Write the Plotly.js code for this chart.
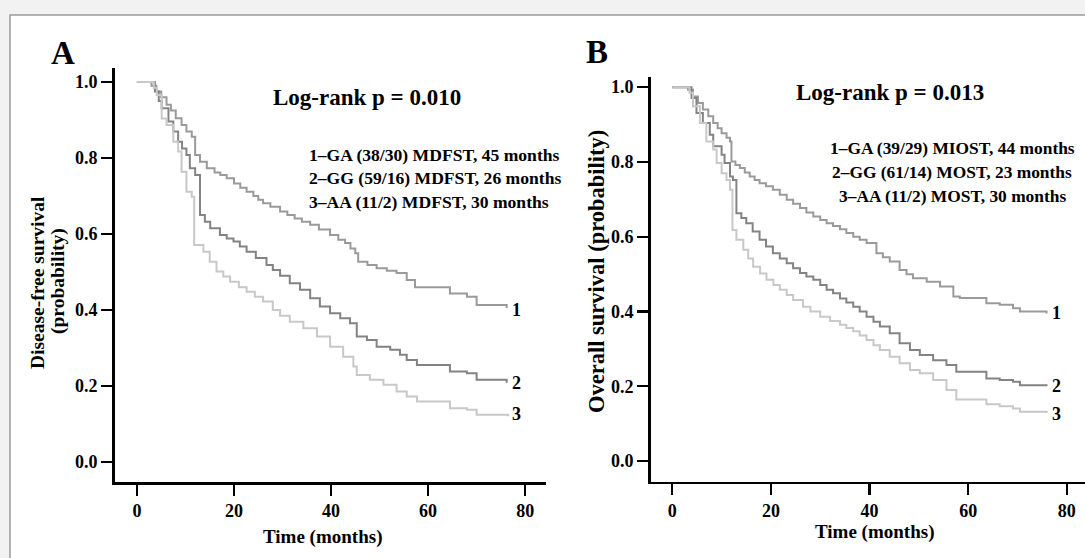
<!DOCTYPE html>
<html>
<head>
<meta charset="utf-8">
<script src="https://cdn.plot.ly/plotly-3.0.1.min.js"></script>
<style>html,body{margin:0;padding:0;background:#f2f2f2;}#chart{width:1085px;height:558px;}</style>
</head>
<body>
<div id="chart"></div>
<script>
// ---- Panel A: disease-free survival ----
const tA1 = [0, 2.7, 3.0, 4.0, 5.0, 6.1, 7.0, 8.0, 9.2, 10.2, 11.3, 12.0, 13.0, 14.4, 16.0, 17.2, 18.5, 20.0, 21.3, 22.6, 24.0, 25.0, 26.0, 27.5, 29.5, 31.0, 32.5, 34.0, 35.7, 37.5, 39.8, 41.5, 42.9, 44.0, 45.0, 45.6, 47.5, 49.4, 51.5, 53.5, 55.6, 57.3, 64.5, 68.0, 70.0, 76.2];
const sA1 = [1, 1, 0.99, 0.975, 0.96, 0.94, 0.925, 0.905, 0.887, 0.87, 0.856, 0.808, 0.79, 0.773, 0.762, 0.755, 0.747, 0.733, 0.722, 0.711, 0.70, 0.69, 0.681, 0.672, 0.659, 0.65, 0.641, 0.632, 0.624, 0.612, 0.597, 0.585, 0.576, 0.562, 0.549, 0.527, 0.518, 0.510, 0.503, 0.497, 0.479, 0.460, 0.443, 0.435, 0.413, 0.405];
const tA2 = [0, 2.7, 3.7, 4.5, 5.1, 6.5, 7.5, 8.5, 9.3, 10.2, 10.9, 12.0, 13.0, 14.0, 15.1, 17.1, 18.5, 19.9, 21.2, 22.6, 24.5, 26.7, 28.0, 29.5, 31.5, 33.6, 35.7, 37.7, 39.8, 41.9, 43.9, 45.3, 47.4, 49.4, 52.2, 54.2, 55.6, 57.7, 64.5, 68.0, 70.0, 76.2];
const sA2 = [1, 1, 0.975, 0.95, 0.931, 0.896, 0.87, 0.843, 0.825, 0.808, 0.773, 0.755, 0.65, 0.632, 0.615, 0.597, 0.588, 0.580, 0.567, 0.553, 0.537, 0.518, 0.505, 0.49, 0.470, 0.453, 0.431, 0.409, 0.391, 0.378, 0.365, 0.330, 0.321, 0.303, 0.295, 0.282, 0.268, 0.255, 0.238, 0.233, 0.216, 0.208];
const tA3 = [0, 2.7, 3.5, 4.1, 5.1, 6.1, 7.5, 8.5, 9.2, 10.2, 11.3, 11.8, 13.7, 15.0, 16.4, 17.8, 19.2, 21.0, 22.6, 24.3, 26.0, 28.0, 29.5, 31.5, 34.3, 37.1, 39.8, 42.5, 44.6, 45.3, 48.0, 50.8, 53.5, 55.6, 57.7, 64.5, 68.0, 70.0, 76.5];
const sA3 = [1, 1, 0.985, 0.966, 0.904, 0.887, 0.843, 0.817, 0.764, 0.711, 0.698, 0.571, 0.553, 0.527, 0.501, 0.488, 0.474, 0.46, 0.448, 0.435, 0.422, 0.40, 0.385, 0.369, 0.352, 0.330, 0.303, 0.277, 0.251, 0.229, 0.216, 0.203, 0.185, 0.172, 0.159, 0.141, 0.137, 0.124, 0.12];

// ---- Panel B: overall survival ----
const tB1 = [0, 2.9, 3.2, 4.2, 5.2, 6.2, 7.3, 8.3, 9.2, 10.0, 11.0, 11.7, 12.0, 12.8, 13.7, 14.7, 15.7, 16.7, 17.7, 19.0, 20.4, 21.8, 23.2, 24.5, 25.9, 27.2, 28.6, 30.0, 31.3, 32.6, 34.0, 35.3, 36.7, 38.0, 39.4, 41.4, 42.7, 44.1, 46.1, 47.5, 48.8, 51.6, 54.3, 57.0, 58.3, 63.7, 66.4, 69.1, 70.5, 75.9];
const sB1 = [1, 1, 0.993, 0.975, 0.958, 0.940, 0.922, 0.904, 0.89, 0.877, 0.865, 0.855, 0.801, 0.792, 0.784, 0.772, 0.761, 0.752, 0.743, 0.735, 0.726, 0.712, 0.699, 0.688, 0.677, 0.665, 0.654, 0.645, 0.636, 0.629, 0.620, 0.610, 0.600, 0.592, 0.583, 0.556, 0.545, 0.534, 0.511, 0.50, 0.489, 0.480, 0.467, 0.440, 0.436, 0.422, 0.418, 0.409, 0.400, 0.395];
const tB2 = [0, 2.9, 3.9, 4.9, 6.2, 7.6, 8.3, 10.0, 10.6, 11.7, 12.3, 13.0, 14.0, 15.0, 16.3, 17.7, 19.0, 20.4, 21.8, 23.2, 24.5, 25.9, 27.2, 28.6, 30.0, 31.3, 32.6, 34.0, 35.3, 36.7, 38.0, 39.4, 40.8, 42.1, 44.1, 46.1, 48.2, 50.2, 52.9, 55.6, 57.6, 63.7, 66.4, 69.1, 70.5, 75.9];
const sB2 = [1, 1, 0.971, 0.931, 0.904, 0.873, 0.842, 0.819, 0.797, 0.761, 0.752, 0.663, 0.650, 0.636, 0.614, 0.592, 0.574, 0.556, 0.542, 0.529, 0.516, 0.503, 0.494, 0.485, 0.471, 0.458, 0.449, 0.435, 0.424, 0.413, 0.400, 0.386, 0.373, 0.360, 0.342, 0.315, 0.297, 0.284, 0.270, 0.257, 0.239, 0.221, 0.217, 0.212, 0.203, 0.200];
const tB3 = [0, 2.9, 3.5, 4.2, 5.6, 6.9, 8.3, 9.0, 10.0, 11.0, 11.7, 12.2, 13.0, 14.4, 15.4, 16.4, 17.8, 19.1, 20.5, 21.8, 23.2, 24.5, 26.5, 28.0, 30.0, 32.0, 34.0, 35.3, 36.7, 38.0, 39.4, 40.8, 42.1, 44.1, 46.1, 48.2, 50.2, 52.9, 55.6, 57.6, 63.7, 66.4, 69.1, 70.5, 75.9];
const sB3 = [1, 1, 0.985, 0.949, 0.904, 0.855, 0.833, 0.797, 0.770, 0.752, 0.726, 0.618, 0.592, 0.565, 0.542, 0.520, 0.502, 0.485, 0.471, 0.458, 0.444, 0.431, 0.413, 0.400, 0.386, 0.375, 0.365, 0.356, 0.347, 0.336, 0.324, 0.310, 0.297, 0.279, 0.262, 0.244, 0.235, 0.217, 0.19, 0.165, 0.152, 0.147, 0.141, 0.132, 0.129];

const xTicks = [0, 20, 40, 60, 80];
const yTicks = [0, 0.2, 0.4, 0.6, 0.8, 1.0];
const yTickText = ['0.0', '0.2', '0.4', '0.6', '0.8', '1.0'];
const legendA = ['1–GA (38/30) MDFST, 45 months', '2–GG (59/16) MDFST, 26 months', '3–AA (11/2) MDFST, 30 months'];
const legendB = ['1–GA (39/29) MIOST, 44 months', '2–GG (61/14) MOST, 23 months', '3–AA (11/2) MOST, 30 months'];
const pA = 'Log-rank p = 0.010';
const pB = 'Log-rank p = 0.013';
const endLabels = ['1', '2', '3'];
const endA = [0.40, 0.208, 0.126];
const endB = [0.396, 0.201, 0.126];

const W = 1085, H = 558;
const px = x => x / W, py = y => 1 - y / H;
const SERIF = 'Liberation Serif, Times New Roman, serif';
const colors = ['#9a9a9a', '#838383', '#c8c8c8'];

function tr(t, s, i, xa, ya) {
  return {x: t, y: s, type: 'scatter', mode: 'lines', xaxis: xa, yaxis: ya,
    line: {shape: 'hv', color: colors[i], width: 2}, hoverinfo: 'skip', showlegend: false};
}
const data = [
  tr(tA1, sA1, 0, 'x', 'y'), tr(tA2, sA2, 1, 'x', 'y'), tr(tA3, sA3, 2, 'x', 'y'),
  tr(tB1, sB1, 0, 'x2', 'y2'), tr(tB2, sB2, 1, 'x2', 'y2'), tr(tB3, sB3, 2, 'x2', 'y2')
];

const tickFont = {family: SERIF, size: 18, color: '#000', weight: 'bold'};
function xax(dom, rng) {
  return {domain: dom, range: rng, tickvals: xTicks, ticks: 'outside', ticklen: 11, tickwidth: 2.2,
    tickcolor: '#000', showline: true, linecolor: '#000', linewidth: 2.5, showgrid: false,
    zeroline: false, tickfont: tickFont, fixedrange: true};
}
function yax(dom, rng, anchor) {
  return {domain: dom, range: rng, tickvals: yTicks, ticktext: yTickText, ticks: 'outside', ticklen: 11,
    tickwidth: 2.2, tickcolor: '#000', showline: true, linecolor: '#000', linewidth: 2.5, showgrid: false,
    zeroline: false, tickfont: tickFont, anchor: anchor, fixedrange: true};
}

function ann(text, x, y, size, opts) {
  return Object.assign({text: text, xref: 'paper', yref: 'paper', x: px(x), y: py(y), showarrow: false,
    xanchor: 'center', yanchor: 'middle', font: {family: SERIF, size: size, color: '#000', weight: 'bold'}}, opts || {});
}

const annotations = [
  ann('A', 62.5, 53, 33),
  ann('B', 597, 52, 33),
  ann(pA, 367, 97, 23),
  ann(pB, 890, 93, 23),
  ann('Disease-free survival', 37, 283, 19.5, {textangle: -90}),
  ann('(probability)', 58, 281, 19.5, {textangle: -90}),
  ann('Overall survival (probability)', 597, 272, 22.5, {textangle: -90}),
  ann('Time (months)', 322, 537, 19),
  ann('Time (months)', 874, 532, 19)
];
[155, 178, 202].forEach((y, i) => annotations.push(ann(legendA[i], 307, y, 17.6, {xanchor: 'left'})));
[148, 172, 196].forEach((y, i) => annotations.push(ann(legendB[i], 952, y, 17.4)));
endLabels.forEach((t, i) => {
  annotations.push({text: t, xref: 'x', yref: 'y', x: 76.8, y: endA[i], showarrow: false, xanchor: 'left', yanchor: 'middle',
    font: {family: SERIF, size: 18, color: '#000', weight: 'bold'}});
  annotations.push({text: t, xref: 'x2', yref: 'y2', x: 76.6, y: endB[i], showarrow: false, xanchor: 'left', yanchor: 'middle',
    font: {family: SERIF, size: 18, color: '#000', weight: 'bold'}});
});

const layout = {
  width: W, height: H, margin: {l: 0, r: 0, t: 0, b: 0},
  paper_bgcolor: '#f2f2f2', plot_bgcolor: 'rgba(0,0,0,0)', showlegend: false,
  xaxis: xax([px(114.6), px(546)], [-4.6, 84.3]),
  yaxis: yax([py(482), py(68)], [-0.053, 1.037], 'x'),
  xaxis2: Object.assign(xax([px(650.6), 1], [-4.4, 83.7]), {anchor: 'y2'}),
  yaxis2: yax([py(481.7), py(76.7)], [-0.055, 1.028], 'x2'),
  shapes: [{type: 'rect', xref: 'paper', yref: 'paper', x0: px(10), x1: 1.05, y0: -0.05, y1: py(15),
    fillcolor: '#ffffff', line: {color: '#9a9a9a', width: 1.5}, layer: 'below'}],
  annotations: annotations
};
layout.xaxis.anchor = 'y';

Plotly.newPlot('chart', data, layout, {displayModeBar: false, staticPlot: true});
</script>
</body>
</html>
